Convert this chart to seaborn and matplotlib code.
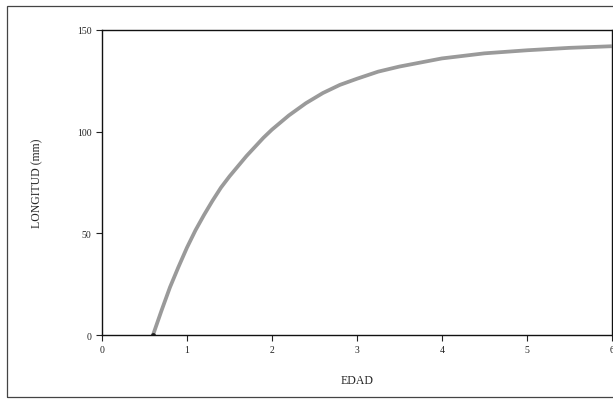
import matplotlib
matplotlib.use("Agg")
import matplotlib.pyplot as plt
import seaborn as sns
import pandas as pd
from matplotlib.patches import Rectangle

# Values
edad = [0.6, 0.7, 0.8, 0.9, 1.0, 1.1, 1.2, 1.3, 1.4, 1.5, 1.6, 1.7, 1.8, 1.9, 2.0,
        2.2, 2.4, 2.6, 2.8, 3.0, 3.25, 3.5, 3.75, 4.0, 4.5, 5.0, 5.5, 6.0]
longitud = [0, 12, 23.5, 33.5, 43, 51.5, 59, 66, 72.5, 78, 83, 88, 92.5, 97, 101,
            108, 114, 119, 123, 126, 129.5, 132, 134, 136, 138.5, 140, 141.2, 142]
x_ticks = [0, 1, 2, 3, 4, 5, 6]
y_ticks = [0, 50, 100, 150]

df = pd.DataFrame({"EDAD": edad, "LONGITUD": longitud})

sns.set_style("ticks")
plt.rcParams["font.family"] = ["Liberation Serif", "DejaVu Serif"]

fig = plt.figure(figsize=(6.13, 4.02), dpi=100)
ax = fig.add_axes([0.1664, 0.164, 0.8316, 0.759])

sns.lineplot(data=df, x="EDAD", y="LONGITUD", ax=ax, color="#9a9a9a",
             linewidth=2.7, solid_capstyle="butt", solid_joinstyle="round")
ax.plot([edad[0]], [longitud[0]], marker="o", markersize=2.5, color="#222222")

ax.set_xlim(0, 6)
ax.set_ylim(0, 150)
ax.set_xticks(x_ticks)
ax.set_yticks(y_ticks)
ax.tick_params(axis="both", direction="out", length=4, width=0.8, labelsize=7,
               colors="#222222")
ax.set_xlabel("EDAD", fontsize=8.5, labelpad=14)
ax.set_ylabel("LONGITUD (mm)", fontsize=8.5, labelpad=24)
for s in ax.spines.values():
    s.set_visible(True)
    s.set_linewidth(1.0)
    s.set_color("#111111")

fig.patches.append(Rectangle((7 / 613, 4 / 402), 1.0, 1 - 11 / 402,
                             transform=fig.transFigure, fill=False,
                             edgecolor="#444444", linewidth=0.9))

fig.savefig("out.png", dpi=100)
